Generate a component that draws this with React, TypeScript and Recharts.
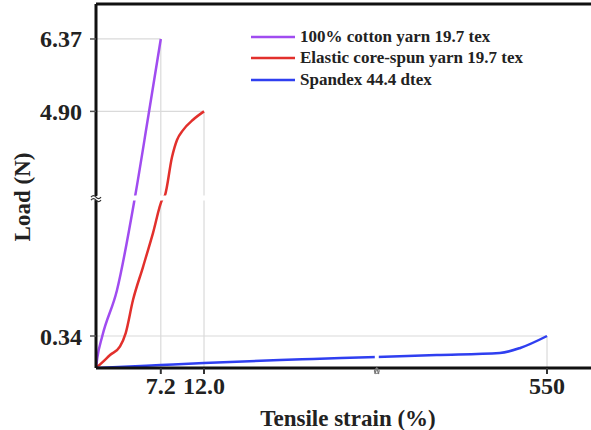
import React from 'react';
import {
  LineChart,
  Line,
  XAxis,
  YAxis,
  ReferenceLine,
  ReferenceArea,
  ReferenceDot,
  Legend,
} from 'recharts';

// ---------- data (real units: strain %, load N) ----------
const cottonStrain = [0, 0.15, 0.7, 2.33, 4.33, 5.8, 7.2];
const cottonLoad = [0, 0.11, 0.34, 1.27, 3.16, 4.79, 6.37];

const coreSpunStrain = [0, 0.7, 1.56, 2.67, 3.3, 4.11, 5.22, 6.33, 7.33, 7.67, 8.44, 9.0, 9.67, 10.78, 12.0];
const coreSpunLoad = [0, 0.06, 0.138, 0.23, 0.4, 1.07, 1.74, 2.43, 3.1, 3.2, 3.97, 4.32, 4.52, 4.73, 4.9];

const spandexStrain = [0, 7.2, 12, 131, 183, 283, 377, 476, 508, 550];
const spandexLoad = [0, 0.032, 0.053, 0.085, 0.096, 0.117, 0.138, 0.159, 0.213, 0.34];

const seriesNames = [
  '100% cotton yarn 19.7 tex',
  'Elastic core-spun yarn 19.7 tex',
  'Spandex 44.4 dtex',
];
const seriesColors = ['#a04cf0', '#e2302c', '#2f3ff0'];

const xTickValues = [7.2, 12.0, 550];
const xTickLabels = ['7.2', '12.0', '550'];
const yTickValues = [0.34, 4.9, 6.37];
const yTickLabels = ['0.34', '4.90', '6.37'];

const xAxisMax = 619;
const yAxisMax = 7.08;
const xBreakValue = 283;
const yBreakValue = 3.14;

// ---------- broken-axis transforms ----------
const X_SPLIT = 12;
const X_LOW = 9;
const X_HIGH = 0.6375;
const tx = (v: number) => (v <= X_SPLIT ? v * X_LOW : X_SPLIT * X_LOW + (v - X_SPLIT) * X_HIGH);

const Y_SPLIT = 0.34;
const Y_LOW = 32 / 0.34;
const Y_HIGH = 49.25;
const ty = (v: number) => (v <= Y_SPLIT ? v * Y_LOW : Y_SPLIT * Y_LOW + (v - Y_SPLIT) * Y_HIGH);

const build = (xs: number[], ys: number[]) => xs.map((x, i) => ({ x: tx(x), y: ty(ys[i]) }));

const seriesData = [
  build(cottonStrain, cottonLoad),
  build(coreSpunStrain, coreSpunLoad),
  build(spandexStrain, spandexLoad),
];
const peaks = [
  [cottonStrain[cottonStrain.length - 1], cottonLoad[cottonLoad.length - 1]],
  [coreSpunStrain[coreSpunStrain.length - 1], coreSpunLoad[coreSpunLoad.length - 1]],
  [spandexStrain[spandexStrain.length - 1], spandexLoad[spandexLoad.length - 1]],
];

const FONT = '"Liberation Serif", "Times New Roman", serif';

const xLabelOf = (v: number) => {
  const i = xTickValues.findIndex((t) => Math.abs(tx(t) - v) < 1e-6);
  return i >= 0 ? xTickLabels[i] : '';
};
const yLabelOf = (v: number) => {
  const i = yTickValues.findIndex((t) => Math.abs(ty(t) - v) < 1e-6);
  return i >= 0 ? yTickLabels[i] : '';
};

const LegendContent = () => (
  <div style={{ fontFamily: FONT, fontWeight: 'bold', fontSize: 17, color: '#222' }}>
    {seriesNames.map((n, i) => (
      <div key={n} style={{ display: 'flex', alignItems: 'center', height: 21.5 }}>
        <svg width={44} height={6} style={{ marginRight: 5 }}>
          <line x1={0} y1={3} x2={44} y2={3} stroke={seriesColors[i]} strokeWidth={2.5} />
        </svg>
        <span style={{ whiteSpace: 'nowrap' }}>{n}</span>
      </div>
    ))}
  </div>
);

const YBreakMark = (props: any) => {
  const { cx, cy } = props;
  return (
    <g>
      <rect x={cx - 5} y={cy - 2} width={10} height={4} fill="#fff" />
      <path d={`M${cx - 5} ${cy - 1} q2.5 -3 5 0 t5 0`} stroke="#333" strokeWidth={1.3} fill="none" />
      <path d={`M${cx - 5} ${cy + 2} q2.5 -3 5 0 t5 0`} stroke="#333" strokeWidth={1.3} fill="none" />
    </g>
  );
};
const XBreakMark = (props: any) => {
  const { cx, cy } = props;
  return (
    <g>
      <path d={`M${cx - 2} ${cy + 6} l2 -6 l2 6`} stroke="#777" strokeWidth={1.3} fill="none" />
      <circle cx={cx} cy={cy + 3} r={2.5} stroke="#777" strokeWidth={1} fill="none" />
    </g>
  );
};

export default function App() {
  return (
    <div style={{ position: 'absolute', left: 0, top: 0, width: 591, height: 430, background: '#fff' }}>
      <LineChart width={591} height={430} margin={{ top: 4, right: 0, bottom: 0, left: 0 }}>
        <XAxis
          type="number"
          dataKey="x"
          domain={[0, tx(xAxisMax)]}
          ticks={xTickValues.map(tx)}
          tickFormatter={xLabelOf}
          allowDataOverflow
          height={62}
          axisLine={{ stroke: '#111', strokeWidth: 3 }}
          tickLine={{ stroke: '#333', strokeWidth: 2 }}
          tickSize={6}
          tickMargin={3}
          tick={{ fill: '#222', fontFamily: FONT, fontWeight: 'bold', fontSize: 24 }}
          label={{
            content: () => (
              <text x={348} y={418} textAnchor="middle" dominantBaseline="central" fill="#222"
                style={{ fontFamily: FONT, fontWeight: 'bold', fontSize: 23 }}>
                Tensile strain (%)
              </text>
            ),
          }}
        />
        <YAxis
          type="number"
          dataKey="y"
          domain={[0, ty(yAxisMax)]}
          ticks={yTickValues.map(ty)}
          tickFormatter={yLabelOf}
          allowDataOverflow
          width={96}
          axisLine={{ stroke: '#111', strokeWidth: 3 }}
          tickLine={{ stroke: '#555', strokeWidth: 1.5 }}
          tickSize={6}
          tickMargin={8}
          tick={{ fill: '#222', fontFamily: FONT, fontWeight: 'bold', fontSize: 24 }}
          label={{
            content: () => (
              <text x={22} y={197} textAnchor="middle" dominantBaseline="central" fill="#222"
                transform="rotate(-90 22 197)"
                style={{ fontFamily: FONT, fontWeight: 'bold', fontSize: 23 }}>
                Load (N)
              </text>
            ),
          }}
        />
        {peaks.map(([px, py], i) => (
          <ReferenceLine key={`h${i}`} segment={[{ x: 0, y: ty(py) }, { x: tx(px), y: ty(py) }]}
            stroke="#dadada" strokeWidth={1.2} />
        ))}
        {peaks.map(([px, py], i) => (
          <ReferenceLine key={`v${i}`} segment={[{ x: tx(px), y: 0 }, { x: tx(px), y: ty(py) }]}
            stroke="#dadada" strokeWidth={1.2} />
        ))}
        <ReferenceLine y={ty(yAxisMax)} stroke="#111" strokeWidth={3} />
        {seriesData.map((d, i) => (
          <Line key={seriesNames[i]} data={d} dataKey="y" name={seriesNames[i]} type="monotone"
            stroke={seriesColors[i]} strokeWidth={2.5} dot={false} isAnimationActive={false} />
        ))}
        <ReferenceArea x1={1.5} x2={120} y1={ty(yBreakValue) - 2.5} y2={ty(yBreakValue) + 2.5}
          fill="#fff" fillOpacity={1} stroke="none" zIndex={2000} />
        <ReferenceArea x1={tx(xBreakValue) - 2} x2={tx(xBreakValue) + 2} y1={2} y2={30}
          fill="#fff" fillOpacity={1} stroke="none" zIndex={2000} />
        <ReferenceDot x={0} y={ty(yBreakValue)} r={4} shape={YBreakMark} ifOverflow="visible" zIndex={2100} />
        <ReferenceDot x={tx(xBreakValue)} y={0} r={4} shape={XBreakMark} ifOverflow="visible" zIndex={2100} />
        <Legend
          verticalAlign="middle"
          align="center"
          layout="vertical"
          content={LegendContent}
          wrapperStyle={{ position: 'absolute', left: 251, top: 26, width: 330 }}
        />
      </LineChart>
    </div>
  );
}
